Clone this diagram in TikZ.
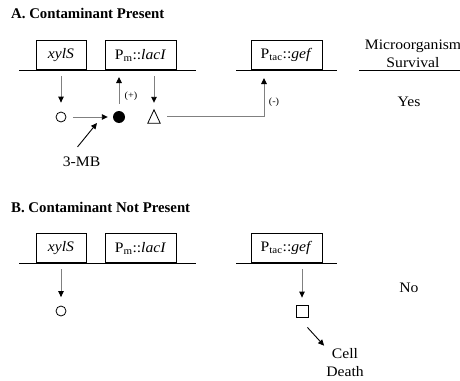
\documentclass[tikz,border=0pt]{standalone}
\usepackage{fontspec}
\setmainfont[FakeStretch=1.08]{Liberation Serif}
\newfontfamily\headfont{Liberation Serif Bold}
\usetikzlibrary{arrows.meta}

\begin{document}
\begin{tikzpicture}[x=1pt,y=-1pt,
  gene/.style={draw,line width=0.9pt,minimum height=29pt,inner sep=0pt,anchor=south,
    font=\fontsize{14.5}{16}\selectfont},
  dna/.style={line width=0.9pt},
  sig/.style={draw=black!50,line width=0.9pt,-{Triangle[color=black,length=6pt,width=5.5pt]}},
  blk/.style={line width=0.9pt,-{Triangle[length=6pt,width=5.5pt]}},
  lab/.style={font=\fontsize{14.5}{18}\selectfont,align=center,inner sep=0pt},
  tiny/.style={font=\fontsize{9.5}{10}\selectfont,inner sep=0pt},
  heading/.style={font=\fontsize{14.8}{17}\headfont,anchor=base west,inner sep=0pt},
  opendot/.style={circle,draw,line width=0.8pt,minimum size=10pt,inner sep=0pt},
  fulldot/.style={circle,fill,minimum size=12pt,inner sep=0pt},
  sq/.style={draw,line width=0.8pt,minimum size=12pt,inner sep=0pt}]
\useasboundingbox (0,0) rectangle (460,380);

% ---------------- A. Contaminant present ----------------
\node[heading] (tA) at (11,18) {A. Contaminant Present};

\coordinate (a1) at (19,70);  \coordinate (a2) at (196,70);
\coordinate (a3) at (236,70); \coordinate (a4) at (337,70);
\coordinate (a5) at (359,70); \coordinate (a6) at (460,70);
\draw[dna] (a1) -- (a2) (a3) -- (a4) (a5) -- (a6);

\node[gene,minimum width=50pt] (xylA) at (61,70) {\textit{xylS}};
\node[gene,minimum width=71pt] (lacA) at (140.5,70) {P\textsubscript{m}::\textit{lacI}};
\node[gene,minimum width=71pt] (gefA) at (286.5,70) {P\textsubscript{tac}::\textit{gef}};

\node[lab] (surv) at (413,54) {Microorganism\\Survival};
\node[lab,anchor=base] (yes) at (409,106) {Yes};

\node[opendot] (xsA) at (61,117) {};
\node[fulldot] (act) at (119,117) {};
\node[minimum width=12pt,minimum height=13pt,inner sep=0pt] (repA) at (154,116.5) {};
\draw[line width=0.8pt,line join=miter]
  (repA.south west) -- (repA.south east) -- (repA.north) -- cycle;
\node[lab] (mb) at (81.5,162) {3-MB};

\draw[sig,shorten <=6pt,shorten >=9pt] (xylA.south) -- (xsA.north);
\draw[sig,shorten <=6.5pt,shorten >=5pt] (xsA.east) -- (act.west);
\draw[blk] ([shift={(-4,-10)}]mb.north) -- ([shift={(-22,6)}]act.center);
\draw[sig,shorten <=7pt,shorten >=7pt] (act.north) -- (act.north |- lacA.south);
\node[tiny] (plus) at (131,96) {(+)};
\draw[sig,shorten <=6pt,shorten >=7pt] (repA.north |- lacA.south) -- (repA.north);
\draw[sig,shorten <=7pt,shorten >=8pt] (repA.east) -| ([xshift=-22.5pt]gefA.south);
\node[tiny] (minus) at (274,102) {(-)};

% ---------------- B. Contaminant not present ----------------
\node[heading] (tB) at (11,212) {B. Contaminant Not Present};

\coordinate (b1) at (19,263);  \coordinate (b2) at (196,263);
\coordinate (b3) at (236,263); \coordinate (b4) at (337,263);
\draw[dna] (b1) -- (b2) (b3) -- (b4);

\node[gene,minimum width=50pt] (xylB) at (61,263) {\textit{xylS}};
\node[gene,minimum width=71pt] (lacB) at (140.5,263) {P\textsubscript{m}::\textit{lacI}};
\node[gene,minimum width=71pt] (gefB) at (286.5,263) {P\textsubscript{tac}::\textit{gef}};

\node[lab,anchor=base] (no) at (409,292) {No};

\node[opendot] (xsB) at (61,311) {};
\node[sq] (tox) at (302,311) {};
\node[lab] (death) at (345,363) {Cell\\Death};

\draw[sig,shorten <=6pt,shorten >=8.5pt] (xylB.south) -- (xsB.north);
\draw[sig,shorten <=6pt,shorten >=7pt] (tox.north |- gefB.south) -- (tox.north);
\draw[blk] ([shift={(-1,10)}]tox.south east) -- ([shift={(-2,-3)}]death.north west);
\end{tikzpicture}
\end{document}
